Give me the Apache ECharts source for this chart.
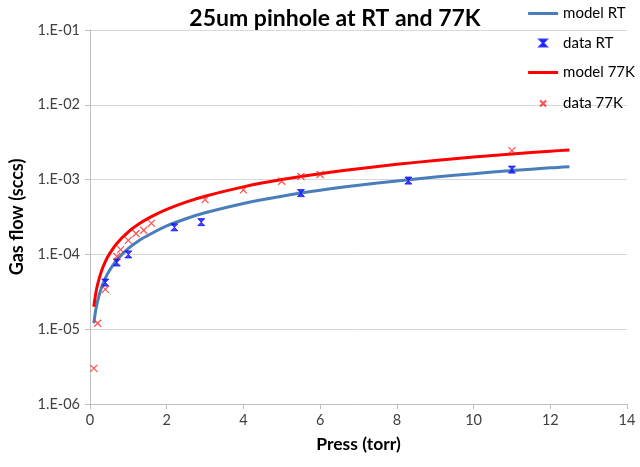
<!DOCTYPE html>
<html lang="en">
<head>
    <meta charset="UTF-8">
    <title>25um pinhole</title>
    <script src="https://cdn.jsdelivr.net/npm/echarts@6/dist/echarts.min.js"></script>
</head>
<style>
    body{
        margin: 0;
        padding: 0;
        background: #fff;
    }
</style>
<body>
<div id="main" style="width: 640px;height:467px;"></div>
<script>
    // pressure (torr) vs gas flow (sccs)
    var modelX = [0.1, 0.15, 0.2, 0.3, 0.4, 0.5, 0.7, 1.0, 1.3, 1.6, 2.0, 2.5, 3, 4, 5, 6, 7, 8, 9, 10, 11, 12, 12.5];
    var modelRT = [1.2e-5, 1.8e-5, 2.4e-5, 3.6e-5, 4.8e-5, 6.0e-5, 8.4e-5, 1.2e-4, 1.56e-4, 1.9e-4, 2.4e-4, 3.0e-4, 3.6e-4, 4.8e-4, 6.0e-4, 7.2e-4, 8.4e-4, 9.6e-4, 1.08e-3, 1.2e-3, 1.32e-3, 1.44e-3, 1.49e-3];
    var model77K = [2.0e-5, 3.0e-5, 4.0e-5, 6.0e-5, 8.0e-5, 1.0e-4, 1.4e-4, 2.0e-4, 2.6e-4, 3.2e-4, 4.0e-4, 5.0e-4, 6.0e-4, 8.0e-4, 1.0e-3, 1.2e-3, 1.4e-3, 1.6e-3, 1.8e-3, 2.0e-3, 2.2e-3, 2.4e-3, 2.49e-3];

    var dataRTX = [0.4, 0.7, 1.0, 2.2, 2.9, 5.5, 8.3, 11.0];
    var dataRTY = [4.2e-5, 7.8e-5, 1.0e-4, 2.3e-4, 2.7e-4, 6.6e-4, 9.7e-4, 1.36e-3];
    var data77KX = [0.1, 0.2, 0.4, 0.7, 0.8, 1.0, 1.2, 1.4, 1.6, 3.0, 4.0, 5.0, 5.5, 6.0, 11.0];
    var data77KY = [3.0e-6, 1.2e-5, 3.4e-5, 9.4e-5, 1.16e-4, 1.54e-4, 1.9e-4, 2.1e-4, 2.6e-4, 5.4e-4, 7.3e-4, 9.5e-4, 1.1e-3, 1.17e-3, 2.44e-3];

    function pairs(xs, ys) {
        var out = [];
        for (var i = 0; i < xs.length; i++) {
            out.push([xs[i], ys[i]]);
        }
        return out;
    }

    // legend icons padded to a 30x14 box so they stay thin / small
    var lineIcon = 'path://M0,0L0,0ZM30,14L30,14ZM0,5.5L30,5.5L30,8.5L0,8.5Z';
    var hourIcon = 'path://M0,0L0,0ZM30,14L30,14ZM11.5,3.5L18.5,3.5L11.5,10.5L18.5,10.5Z';
    var crossIcon = 'path://M0,0L0,0ZM30,14L30,14ZM12,4L18,10M18,4L12,10';

    var font = 'Lato';
    var chart = echarts.init(document.getElementById('main'));
    var option = {
        animation: false,
        backgroundColor: '#fff',
        title: {
            text: '25um pinhole at RT and 77K',
            left: 330,
            textAlign: 'center',
            top: 2,
            textStyle: {fontFamily: font, fontSize: 23, fontWeight: 'bold', color: '#000'}
        },
        legend: {
            orient: 'vertical',
            right: 0,
            top: 1,
            itemGap: 14,
            itemWidth: 30,
            itemHeight: 14,
            textStyle: {fontFamily: font, fontSize: 15, color: '#000'},
            data: [
                {name: 'model RT', icon: lineIcon},
                {name: 'data RT', icon: hourIcon},
                {name: 'model 77K', icon: lineIcon},
                {name: 'data 77K', icon: crossIcon}
            ]
        },
        grid: {left: 87, right: 13, top: 30, bottom: 63},
        xAxis: {
            type: 'value',
            min: 0,
            max: 14,
            interval: 2,
            name: 'Press (torr)',
            nameLocation: 'middle',
            nameGap: 31,
            nameTextStyle: {fontFamily: font, fontSize: 17.5, fontWeight: 'bold', color: '#000'},
            axisLine: {lineStyle: {color: '#bfbfbf'}},
            axisTick: {show: true, length: 5, lineStyle: {color: '#bfbfbf'}},
            axisLabel: {fontFamily: font, fontSize: 14.5, color: '#404040', margin: 9},
            splitLine: {show: false}
        },
        yAxis: {
            type: 'log',
            logBase: 10,
            min: 1e-6,
            max: 0.1,
            name: 'Gas flow (sccs)',
            nameLocation: 'middle',
            nameGap: 64,
            nameTextStyle: {fontFamily: font, fontSize: 18, fontWeight: 'bold', color: '#000'},
            axisLine: {show: true, lineStyle: {color: '#bfbfbf'}},
            axisTick: {show: true, length: 5, lineStyle: {color: '#bfbfbf'}},
            axisLabel: {
                fontFamily: font, fontSize: 14.5, color: '#404040', margin: 10,
                formatter: function (v) {
                    var e = Math.round(Math.log10(v));
                    var s = String(Math.abs(e));
                    if (s.length < 2) s = '0' + s;
                    return '1.E' + (e < 0 ? '-' : '+') + s;
                }
            },
            splitLine: {lineStyle: {color: '#d9d9d9'}},
            minorTick: {show: false}
        },
        series: [
            {
                name: 'model RT',
                type: 'line',
                symbol: 'none',
                smooth: 0.3,
                data: pairs(modelX, modelRT),
                lineStyle: {width: 3, color: '#4a7ebb'},
                itemStyle: {color: '#4a7ebb'},
                z: 2
            },
            {
                name: 'data RT',
                type: 'scatter',
                symbol: 'path://M0,0L10,0L0,10L10,10Z',
                symbolSize: [7, 7],
                data: pairs(dataRTX, dataRTY),
                itemStyle: {color: '#1010ff', borderColor: '#1010ff', borderWidth: 1},
                z: 4
            },
            {
                name: 'model 77K',
                type: 'line',
                symbol: 'none',
                smooth: 0.3,
                data: pairs(modelX, model77K),
                lineStyle: {width: 3, color: '#ff0000'},
                itemStyle: {color: '#ff0000'},
                z: 3
            },
            {
                name: 'data 77K',
                type: 'scatter',
                symbol: 'path://M0,0L10,10M10,0L0,10',
                symbolSize: [7, 7],
                data: pairs(data77KX, data77KY),
                itemStyle: {color: 'none', borderColor: '#ff2020', borderWidth: 1.2},
                z: 5
            }
        ]
    };
    chart.setOption(option);
</script>
</body>
</html>
